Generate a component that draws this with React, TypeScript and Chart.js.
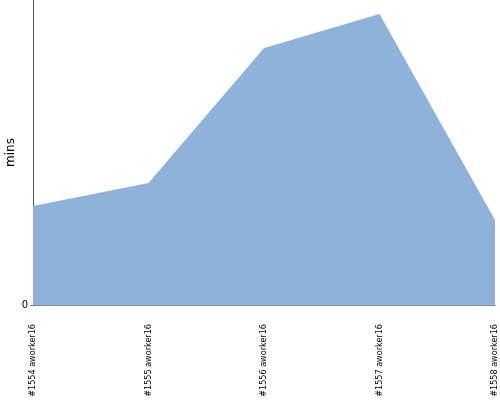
import React, { useEffect, useRef } from "react";
import { Chart, registerables } from "chart.js";

Chart.register(...registerables);

const categories = ["#1554 aworker16", "#1555 aworker16", "#1556 aworker16", "#1557 aworker16", "#1558 aworker16"];
const minutes = [32.5, 40, 84.3, 95.4, 27.9];
const yMax = 100;

export default function App() {
  const ref = useRef<HTMLCanvasElement | null>(null);
  useEffect(() => {
    document.body.style.margin = "0";
    const chart = new Chart(ref.current!, {
      type: "line",
      data: {
        labels: categories,
        datasets: [
          {
            data: minutes,
            fill: "origin",
            backgroundColor: "#8fb2da",
            borderColor: "#8fb2da",
            borderWidth: 0,
            pointRadius: 0,
            tension: 0,
          },
        ],
      },
      options: {
        animation: false,
        responsive: false,
        layout: { padding: { left: 0, right: 5, top: 0, bottom: 0 } },
        plugins: { legend: { display: false }, tooltip: { enabled: false } },
        scales: {
          x: {
            offset: false,
            grid: { display: false },
            border: { display: true, color: "#8a8a8a", width: 1 },
            ticks: {
              maxRotation: 90,
              minRotation: 90,
              autoSkip: false,
              padding: 11,
              color: "#000",
              font: { family: "'Liberation Sans Narrow', 'DejaVu Sans Condensed', sans-serif", size: 9 },
            },
            afterFit: (axis: any) => {
              axis.height = 95;
              axis.paddingLeft = 0;
              axis.paddingRight = 0;
            },
          },
          y: {
            min: 0,
            max: yMax,
            afterBuildTicks: (axis: any) => {
              axis.ticks = [{ value: 0 }];
            },
            grid: { display: true, drawOnChartArea: false, tickLength: 3, color: "#8a8a8a" },
            border: { display: true, color: "#555", width: 1 },
            ticks: {
              color: "#000",
              padding: 2,
              font: { family: "'DejaVu Sans', sans-serif", size: 10 },
            },
            title: {
              display: true,
              text: "mins",
              color: "#000",
              padding: { top: 4, bottom: 0 },
              font: { family: "'DejaVu Sans', sans-serif", size: 12 },
            },
            afterFit: (axis: any) => {
              axis.width = 33;
              axis.paddingTop = 0;
              axis.paddingBottom = 0;
            },
          },
        },
      },
    });
    return () => chart.destroy();
  }, []);
  return <canvas ref={ref} width={500} height={400} style={{ display: "block" }} />;
}
